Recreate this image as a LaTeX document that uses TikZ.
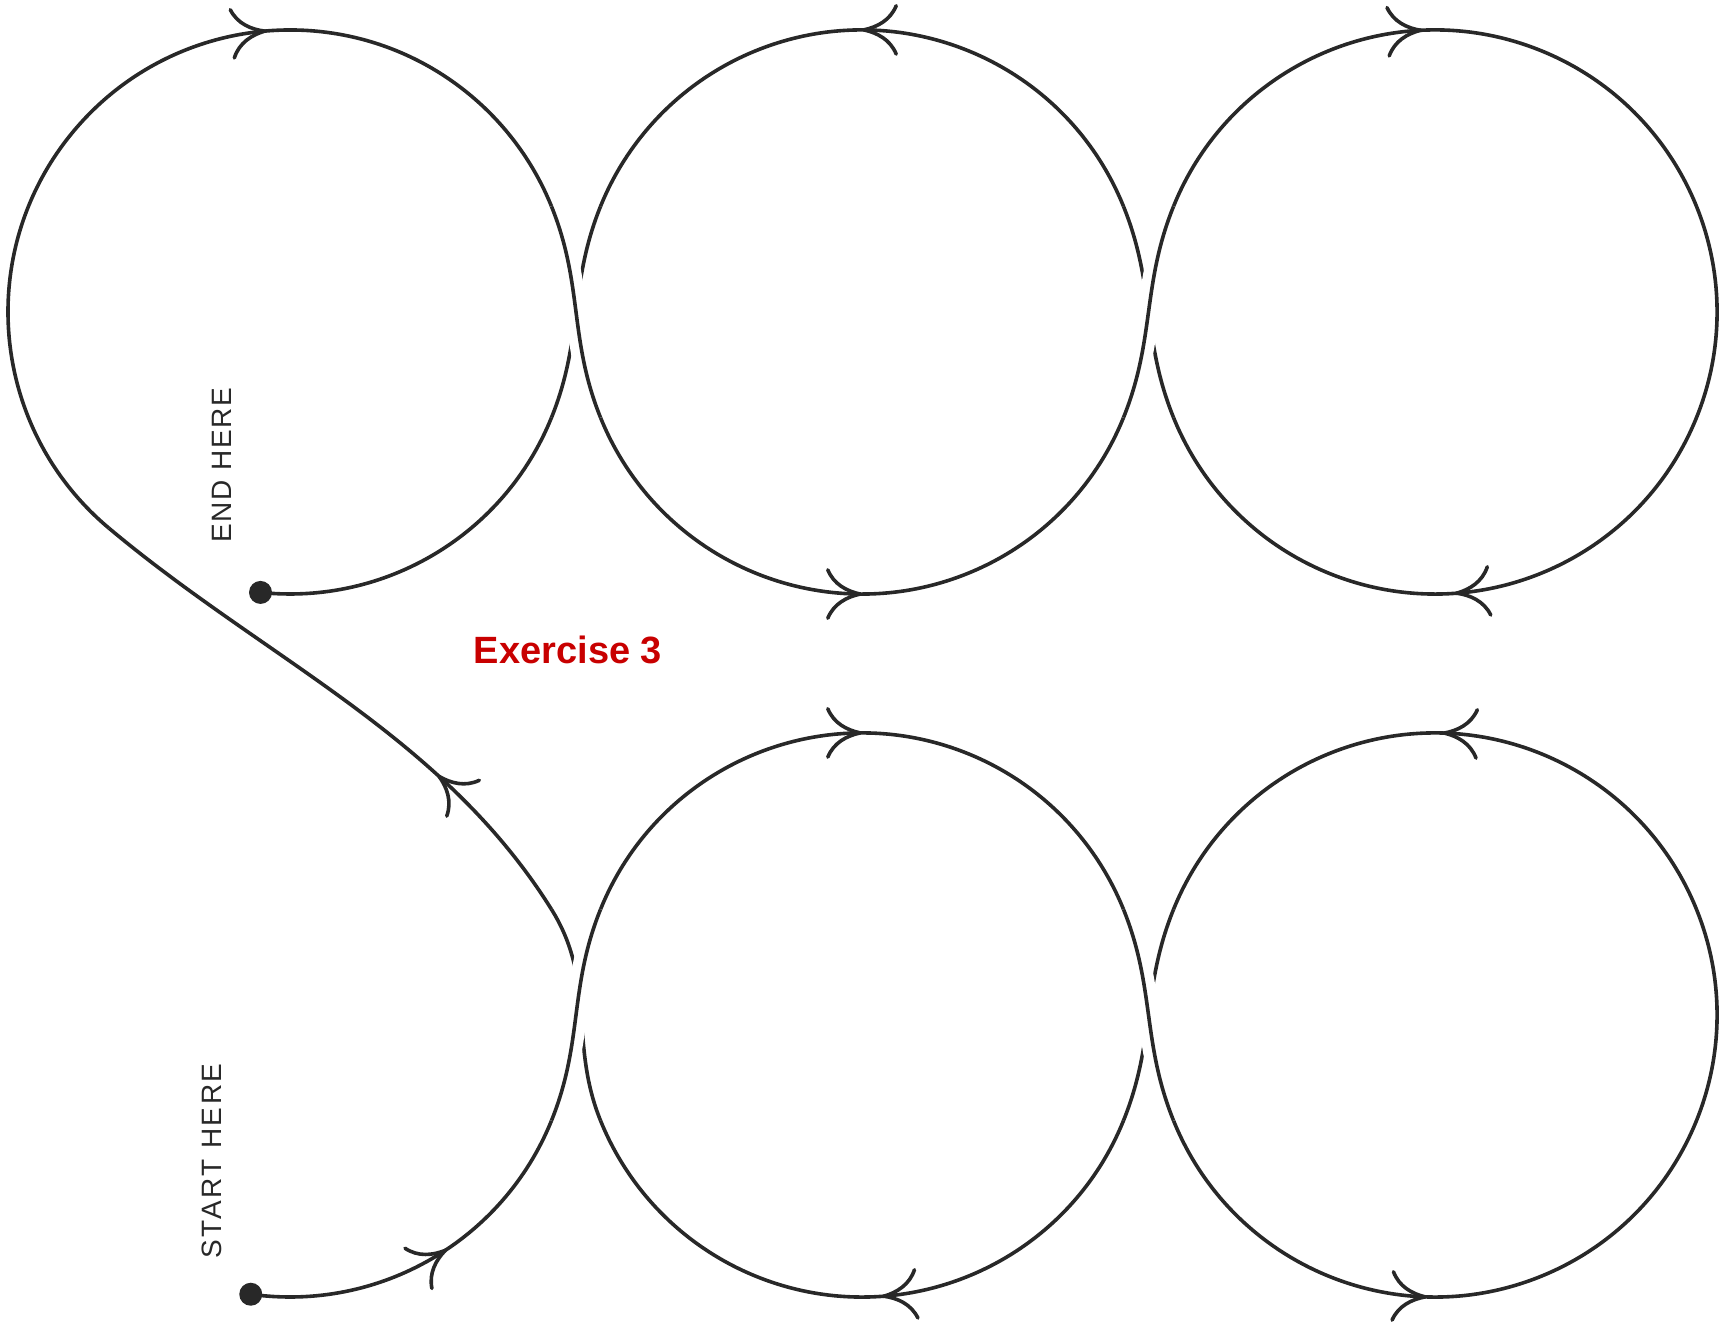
\documentclass[tikz,border=0pt]{standalone}
\usepackage{fontspec}
\usetikzlibrary{arrows.meta,decorations.markings,calc}
\newfontfamily\hintfont[LetterSpace=6]{Liberation Sans}
\definecolor{ink}{RGB}{40,40,40}
\definecolor{exred}{RGB}{200,0,0}

\tikzset{
  >={Computer Modern Rightarrow[length=18pt,width=26pt]},
  loopline/.style={color=ink, line width=1.8pt},
  overstrand/.style={loopline, preaction={draw=white, line width=11pt}},
  arrat/.style={postaction={decorate, decoration={markings, mark=at position #1 with {\arrow{>}}}}},
  arrtwo/.style 2 args={postaction={decorate, decoration={markings, mark=at position #1 with {\arrow{>}}, mark=at position #2 with {\arrow{>}}}}},
  enddot/.style={circle, fill=ink, inner sep=0pt, minimum size=11.5pt},
  hint/.style={text=ink, rotate=90, font=\hintfont\fontsize{14}{16}\selectfont}
}

\begin{document}
\begin{tikzpicture}[x=0.5pt,y=0.5pt]
  \path[use as bounding box] (0,0) rectangle (1728,1325);
  \coordinate (UL) at (290,1013);
  \coordinate (UM) at (862,1013);
  \coordinate (UR) at (1435,1013);
  \coordinate (LL) at (290,310);
  \coordinate (LM) at (862,310);
  \coordinate (LR) at (1435,310);
  \coordinate (DIAG) at ($(UL)+(230:282)$);

  \node[enddot] (START) at ($(LL)+(-98:282)$) {};
  \node[enddot] (END) at ($(UL)+(-96:282)$) {};
  \node[hint] (STARTTXT) at (212,164) {\addfontfeatures{LetterSpace=9}START HERE};
  \node[hint] (ENDTXT) at (222,860) {END HERE};
  \node[text=exred, font=\hintfont\addfontfeatures{LetterSpace=0}\bfseries\fontsize{19}{22}\selectfont] (TITLE) at (568,675) {Exercise 3};

  \draw[loopline, arrat=.55] (START.center) arc[start angle=-98, end angle=-22, radius=282];
  \draw[loopline, arrat=.5] ($(LM)+(158:282)$) arc[start angle=158, end angle=22, radius=282];
  \draw[loopline, arrtwo={.21}{.78}] ($(LR)+(202:282)$) arc[start angle=202, end angle=518, radius=282];
  \draw[loopline] ($(LR)+(158:282)$) to[out=248,in=68] ($(LM)+(-22:282)$);
  \draw[loopline, arrat=.47] ($(LM)+(-22:282)$) arc[start angle=-22, end angle=-158, radius=282];
  \draw[loopline] ($(LM)+(202:282)$) to[out=112,in=-58] ($(LL)+(22:282)$);
  \draw[loopline, arrat=.3] ($(LL)+(22:282)$) to[out=122,in=-40,looseness=.9] (DIAG);
  \draw[loopline, arrat=.65] (DIAG) arc[start angle=230, end angle=22, radius=282];
  \draw[loopline, arrat=.5] ($(UM)+(202:282)$) arc[start angle=202, end angle=338, radius=282];
  \draw[loopline, arrtwo={.207}{.772}] ($(UR)+(158:282)$) arc[start angle=158, end angle=-158, radius=282];
  \draw[loopline] ($(UR)+(202:282)$) to[out=112,in=-68] ($(UM)+(22:282)$);
  \draw[loopline, arrat=.5] ($(UM)+(22:282)$) arc[start angle=22, end angle=158, radius=282];
  \draw[loopline] ($(UM)+(158:282)$) to[out=248,in=68] ($(UL)+(-22:282)$);
  \draw[loopline] ($(UL)+(-22:282)$) arc[start angle=-22, end angle=-96, radius=282];

  \draw[overstrand] ($(LL)+(-22:282)$) to[out=68,in=248] ($(LM)+(158:282)$);
  \draw[overstrand] ($(LM)+(22:282)$) to[out=-68,in=112] ($(LR)+(202:282)$);
  \draw[overstrand] ($(UL)+(22:282)$) to[out=-68,in=112] ($(UM)+(202:282)$);
  \draw[overstrand] ($(UM)+(-22:282)$) to[out=68,in=248] ($(UR)+(158:282)$);
\end{tikzpicture}
\end{document}
